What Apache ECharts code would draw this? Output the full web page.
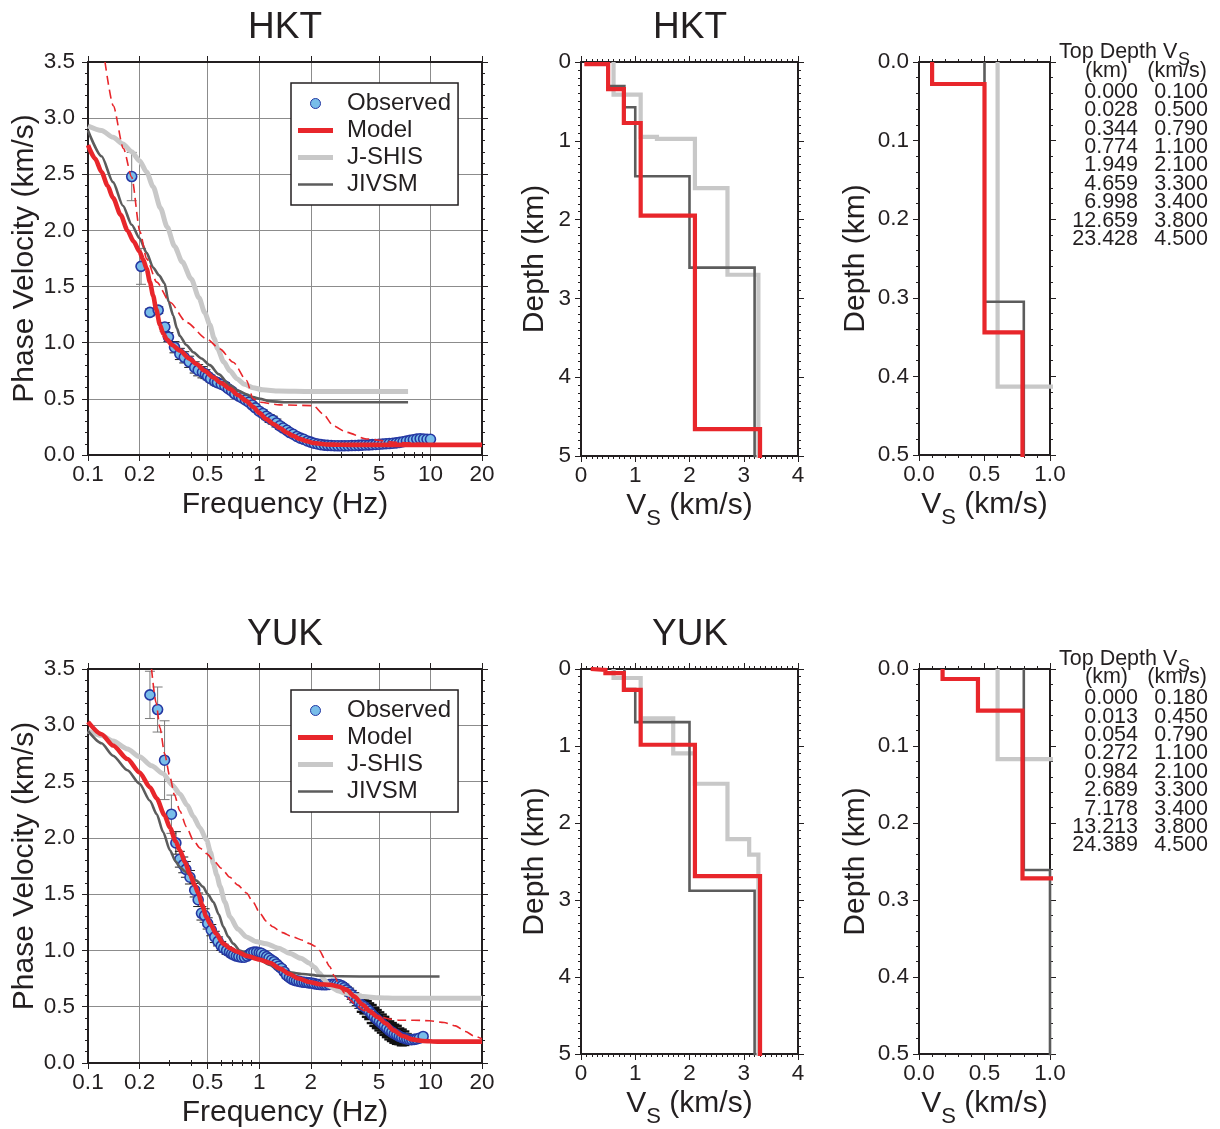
<!DOCTYPE html>
<html>
<head>
<meta charset="utf-8">
<title>HKT / YUK dispersion and Vs profiles</title>
<script src="https://cdn.jsdelivr.net/npm/echarts@6/dist/echarts.min.js"></script>
<style>
html, body { margin: 0; padding: 0; background: #fff; }
#chart { width: 1220px; height: 1129px; }
</style>
</head>
<body>
<div id="chart"></div>
<script>
// ---------------- styling constants ----------------
const FONT = '"Liberation Sans", Arial, Helvetica, sans-serif';
const INK = '#231f20';
const RED = '#e8262b';
const LIGHT = '#c8c8c8';
const DARK = '#5c5c5c';
const GRID_COLOR = '#8c8c8c';
const OBS_FILL = '#78bde9';
const OBS_EDGE = '#2538a3';

// ---------------- axis tick values ----------------
const FREQ_TICKS = [0.1, 0.2, 0.5, 1, 2, 5, 10, 20];
const FREQ_MINOR = [0.3, 0.4, 0.6, 0.7, 0.8, 0.9, 3, 4, 6, 7, 8, 9];

// ---------------- HKT phase velocity curves [Hz, km/s] ----------------
const hktModel = [[0.1,2.76],[0.11,2.64],[0.12,2.52],[0.13,2.40],[0.14,2.29],[0.155,2.14],[0.17,2.00],[0.185,1.90],[0.2,1.81],[0.21,1.74],[0.22,1.66],[0.23,1.54],[0.24,1.42],[0.25,1.30],[0.263,1.16],[0.275,1.08],[0.288,1.03],[0.31,0.98],[0.344,0.93],[0.39,0.86],[0.43,0.81],[0.48,0.75],[0.54,0.69],[0.6,0.64],[0.674,0.59],[0.75,0.535],[0.843,0.48],[0.92,0.43],[1.0,0.375],[1.1,0.32],[1.21,0.276],[1.32,0.24],[1.445,0.2],[1.58,0.17],[1.73,0.143],[1.9,0.123],[2.07,0.107],[2.47,0.094],[3,0.091],[4,0.09],[6,0.09],[10,0.09],[20,0.09]];
const hktInitial = [[0.1257,3.5],[0.1405,3.11],[0.161,2.73],[0.18,2.475],[0.201,1.99],[0.22,1.747],[0.252,1.54],[0.301,1.36],[0.377,1.18],[0.493,1.034],[0.589,0.945],[0.705,0.826],[0.843,0.663],[0.922,0.50],[1.01,0.47],[1.32,0.446],[2.07,0.44],[2.36,0.365],[2.71,0.26],[3.24,0.202],[4.23,0.143],[6.3,0.113],[9.9,0.098],[20,0.089]];
const hktJshis = [[0.1,2.93],[0.12,2.89],[0.14,2.83],[0.16,2.77],[0.18,2.70],[0.2,2.62],[0.22,2.52],[0.24,2.39],[0.265,2.20],[0.29,2.03],[0.32,1.86],[0.355,1.72],[0.4,1.57],[0.445,1.40],[0.48,1.27],[0.515,1.16],[0.545,1.04],[0.57,0.95],[0.62,0.83],[0.674,0.75],[0.74,0.68],[0.82,0.63],[0.92,0.60],[1.05,0.58],[1.3,0.57],[2,0.565],[4,0.565],[7.4,0.565]];
const hktJivsm = [[0.1,2.89],[0.12,2.66],[0.14,2.43],[0.16,2.22],[0.18,2.05],[0.2,1.93],[0.22,1.80],[0.24,1.67],[0.26,1.60],[0.28,1.53],[0.295,1.37],[0.315,1.24],[0.33,1.13],[0.344,1.06],[0.375,0.98],[0.412,0.915],[0.46,0.86],[0.515,0.80],[0.58,0.72],[0.674,0.62],[0.75,0.575],[0.843,0.54],[0.92,0.515],[1.01,0.50],[1.15,0.48],[1.4,0.47],[2,0.47],[4,0.47],[7.4,0.47]];
// observed: [Hz, km/s, half error]
const hktObserved = [[0.18,2.48,0.215],[0.204,1.68,0.16],[0.23,1.27,0.03],[0.257,1.29,0.03],[0.281,1.14,0.04],[0.295,1.05,0.04],[0.32,0.96,0.05],[0.344,0.90,0.05],[0.365,0.87,0.05],[0.39,0.83,0.05],[0.42,0.78,0.05],[0.44,0.755,0.05],[0.466,0.737,0.05],[0.485,0.72,0.04],
[0.50,0.70,0.03],[0.52,0.68,0.03],[0.55,0.655,0.03],[0.57,0.645,0.03],[0.60,0.63,0.03],[0.63,0.615,0.03],[0.66,0.59,0.025],[0.69,0.57,0.025],[0.72,0.545,0.025],[0.76,0.525,0.025],[0.79,0.51,0.025],[0.83,0.49,0.025],[0.87,0.47,0.025],[0.91,0.445,0.025],[0.95,0.42,0.025],[1.00,0.39,0.025],[1.05,0.37,0.03],[1.10,0.345,0.03],[1.15,0.325,0.035],[1.20,0.31,0.035],[1.26,0.285,0.035],[1.32,0.26,0.03],[1.38,0.24,0.025],[1.45,0.22,0.02],[1.51,0.20,0.02],[1.58,0.185,0.02],[1.66,0.165,0.02],[1.74,0.15,0.02],[1.82,0.14,0.02],[1.91,0.125,0.02],[2.00,0.115,0.015],[2.09,0.105,0.015],[2.19,0.098,0.015],[2.29,0.092,0.015],[2.40,0.088,0.015],[2.51,0.086,0.015],[2.63,0.084,0.015],[2.75,0.083,0.015],[2.88,0.082,0.015],[3.02,0.082,0.015],[3.16,0.083,0.015],[3.31,0.083,0.015],[3.47,0.084,0.015],[3.63,0.085,0.015],[3.80,0.086,0.015],[3.98,0.088,0.015],[4.17,0.089,0.015],[4.37,0.09,0.015],[4.57,0.092,0.015],[4.79,0.094,0.015],[5.01,0.096,0.015],[5.25,0.098,0.015],[5.50,0.10,0.015],[5.75,0.102,0.015],[6.03,0.105,0.015],[6.31,0.108,0.015],[6.61,0.112,0.015],[6.92,0.118,0.015],[7.24,0.124,0.015],[7.59,0.13,0.015],[7.94,0.136,0.015],[8.32,0.142,0.015],[8.71,0.145,0.015],[9.12,0.143,0.015],[9.55,0.14,0.015],[10.0,0.14,0.01]];

// ---------------- YUK phase velocity curves [Hz, km/s] ----------------
const yukModel = [[0.1,3.03],[0.12,2.92],[0.14,2.82],[0.17,2.70],[0.2,2.58],[0.23,2.45],[0.252,2.35],[0.28,2.20],[0.301,2.09],[0.325,1.97],[0.344,1.89],[0.37,1.78],[0.393,1.68],[0.42,1.58],[0.44,1.51],[0.465,1.40],[0.49,1.30],[0.52,1.23],[0.56,1.15],[0.617,1.06],[0.674,1.02],[0.738,0.99],[0.85,0.95],[1.0,0.92],[1.15,0.89],[1.32,0.84],[1.5,0.79],[1.7,0.75],[1.95,0.72],[2.25,0.70],[2.6,0.695],[2.9,0.68],[3.24,0.65],[3.6,0.59],[4.0,0.52],[4.43,0.46],[4.9,0.41],[5.5,0.35],[6.1,0.29],[6.9,0.24],[7.8,0.21],[9,0.196],[11,0.19],[14,0.19],[20,0.19]];
const yukInitial = [[0.235,3.5],[0.25,3.2],[0.263,2.98],[0.28,2.75],[0.301,2.54],[0.32,2.38],[0.344,2.24],[0.375,2.10],[0.412,1.98],[0.45,1.91],[0.493,1.86],[0.54,1.80],[0.6,1.73],[0.674,1.65],[0.75,1.58],[0.843,1.51],[0.92,1.43],[1.01,1.33],[1.1,1.26],[1.2,1.21],[1.35,1.16],[1.57,1.12],[1.8,1.09],[1.97,1.06],[2.1,1.04],[2.25,1.00],[2.4,0.93],[2.58,0.856],[2.75,0.77],[2.96,0.68],[3.15,0.62],[3.4,0.56],[3.7,0.51],[4.05,0.47],[4.5,0.435],[5.1,0.41],[5.8,0.39],[6.6,0.38],[8,0.38],[9.9,0.375],[12,0.36],[14,0.33],[16,0.28],[18,0.24],[20,0.215]];
const yukJshis = [[0.1,2.95],[0.12,2.91],[0.14,2.86],[0.17,2.79],[0.2,2.72],[0.235,2.64],[0.275,2.57],[0.31,2.47],[0.344,2.39],[0.38,2.29],[0.412,2.19],[0.45,2.09],[0.493,1.98],[0.52,1.87],[0.54,1.77],[0.565,1.67],[0.59,1.57],[0.63,1.43],[0.674,1.30],[0.75,1.19],[0.843,1.12],[0.95,1.08],[1.1,1.06],[1.3,1.02],[1.5,0.975],[1.75,0.93],[1.97,0.886],[2.1,0.85],[2.25,0.797],[2.4,0.74],[2.58,0.68],[2.9,0.64],[3.2,0.62],[3.6,0.60],[4.05,0.59],[5,0.58],[6.3,0.576],[10,0.576],[20,0.576]];
const yukJivsm = [[0.1,2.95],[0.12,2.84],[0.14,2.73],[0.17,2.60],[0.2,2.48],[0.23,2.33],[0.252,2.21],[0.275,2.05],[0.301,1.89],[0.325,1.79],[0.344,1.74],[0.37,1.70],[0.393,1.67],[0.43,1.62],[0.47,1.565],[0.5,1.50],[0.54,1.43],[0.58,1.32],[0.617,1.21],[0.66,1.12],[0.705,1.06],[0.77,1.00],[0.88,0.95],[1.01,0.915],[1.15,0.87],[1.32,0.827],[1.5,0.805],[1.8,0.79],[2.25,0.775],[3,0.77],[5,0.768],[11.3,0.768]];
const yukObserved = [[0.23,3.27,0.21],[0.255,3.14,0.2],[0.28,2.69,0.35],[0.307,2.21,0.17],[0.326,1.955,0.1],[0.344,1.81,0.07],[0.36,1.76,0.07],[0.373,1.72,0.07],[0.394,1.65,0.06],[0.42,1.535,0.06],[0.44,1.45,0.06],[0.46,1.33,0.06],[0.48,1.31,0.06],[0.50,1.24,0.05],[0.525,1.18,0.05],[0.55,1.12,0.05],[0.575,1.08,0.04],[0.60,1.04,0.04],[0.62,1.02,0.035],[0.645,1.00,0.035],[0.67,0.985,0.03],[0.69,0.97,0.03],[0.71,0.96,0.025],[0.735,0.95,0.025],[0.76,0.945,0.025],[0.79,0.94,0.025],[0.82,0.94,0.025],[0.85,0.95,0.025],[0.875,0.965,0.025],[0.90,0.98,0.025],[0.93,0.985,0.025],[0.965,0.985,0.025],[1.0,0.98,0.025],[1.03,0.975,0.025],[1.07,0.96,0.025],[1.105,0.945,0.025],[1.14,0.93,0.025],[1.18,0.915,0.025],[1.22,0.90,0.025],[1.26,0.88,0.025],[1.30,0.86,0.025],[1.35,0.84,0.025],[1.40,0.81,0.025],[1.445,0.78,0.025],[1.50,0.76,0.025],[1.55,0.745,0.025],[1.60,0.735,0.025],[1.65,0.73,0.025],[1.71,0.725,0.025],[1.77,0.72,0.025],[1.83,0.717,0.025],[1.89,0.715,0.025],[1.95,0.712,0.025],[2.02,0.71,0.025],[2.09,0.705,0.025],[2.17,0.70,0.025],[2.24,0.698,0.025],[2.32,0.695,0.025],[2.40,0.695,0.025],[2.47,0.695,0.025],[2.56,0.698,0.025],[2.65,0.70,0.025],[2.74,0.70,0.025],[2.84,0.70,0.025],[2.94,0.695,0.025],[3.04,0.685,0.03],[3.14,0.67,0.03],[3.24,0.65,0.03],[3.35,0.63,0.035],[3.47,0.605,0.04],[3.59,0.58,0.045],[3.71,0.56,0.05],[3.84,0.535,0.05],[3.97,0.515,0.06],[4.11,0.50,0.06],[4.25,0.48,0.07],[4.39,0.46,0.07],[4.54,0.435,0.08],[4.70,0.41,0.08],[4.86,0.39,0.08],[5.03,0.37,0.08],[5.2,0.35,0.08],[5.38,0.33,0.08],[5.56,0.31,0.08],[5.75,0.29,0.08],[5.95,0.275,0.08],[6.15,0.26,0.08],[6.36,0.25,0.08],[6.58,0.237,0.07],[6.8,0.227,0.07],[7.04,0.22,0.06],[7.28,0.213,0.05],[7.53,0.209,0.04],[7.78,0.207,0.03],[8.04,0.21,0.03],[8.3,0.213,0.03],[8.6,0.22,0.02],[9.06,0.236,0.02]];

// ---------------- layered Vs models: top depth (km) / Vs (km/s) ----------------
const hktTopDepth = [0.000, 0.028, 0.344, 0.774, 1.949, 4.659, 6.998, 12.659, 23.428];
const hktVs       = [0.100, 0.500, 0.790, 1.100, 2.100, 3.300, 3.400, 3.800, 4.500];
const hktJshisTop = [0, 0.413, 0.95, 0.976, 1.6, 2.7];
const hktJshisVs  = [0.6, 1.1, 1.4, 2.1, 2.7, 3.27];
const hktJivsmTop = [0, 0.305, 0.575, 1.45, 2.61];
const hktJivsmVs  = [0.5, 0.8, 1.0, 2.0, 3.2];

const yukTopDepth = [0.000, 0.013, 0.054, 0.272, 0.984, 2.689, 7.178, 13.213, 24.389];
const yukVs       = [0.180, 0.450, 0.790, 1.100, 2.100, 3.300, 3.400, 3.800, 4.500];
const yukJshisTop = [0, 0.117, 0.64, 1.095, 1.49, 2.21, 2.41];
const yukJshisVs  = [0.6, 1.1, 1.7, 2.1, 2.7, 3.1, 3.27];
const yukJivsmTop = [0, 0.261, 0.69, 2.88];
const yukJivsmVs  = [0.8, 1.0, 2.0, 3.2];

// ---------------- layout ----------------
const grid = [
  { left: 88,  top: 62,  width: 394, height: 393 },
  { left: 581, top: 62,  width: 217, height: 394 },
  { left: 919, top: 62,  width: 131, height: 393 },
  { left: 88,  top: 669, width: 394, height: 394 },
  { left: 581, top: 669, width: 217, height: 393 },
  { left: 919, top: 669, width: 131, height: 393 }
];

const frameLine = { show: true, onZero: false, lineStyle: { color: INK, width: 2 } };
const tickLine = { color: INK, width: 1 };
const labelStyle = { color: INK, fontSize: 22.5, fontFamily: FONT };
const nameStyle = { color: INK, fontSize: 30, fontFamily: FONT };
const vsNameStyle = {
  color: INK, fontSize: 30, fontFamily: FONT,
  rich: { s: { fontSize: 22, fontFamily: FONT, color: INK, padding: [26, 0, 0, 0], verticalAlign: 'bottom' } }
};

const xAxis = [];
const yAxis = [];
const series = [];

function fmtFreq(v) { return String(+Number(v).toPrecision(4)); }

function dispersionAxes(gi) {
  const base = { gridIndex: gi, type: 'log', logBase: 10, min: 0.1, max: 20 };
  const xi = xAxis.length;
  xAxis.push(Object.assign({}, base, {
    position: 'bottom', axisLine: frameLine,
    axisTick: { show: true, length: 6, customValues: FREQ_TICKS, lineStyle: tickLine },
    axisLabel: Object.assign({ show: true, customValues: FREQ_TICKS, margin: 8, formatter: fmtFreq }, labelStyle),
    minorTick: { show: false },
    splitLine: { show: true, lineStyle: { color: GRID_COLOR, width: 1 } },
    name: 'Frequency (Hz)', nameLocation: 'middle', nameGap: 35, nameTextStyle: nameStyle
  }));
  xAxis.push(Object.assign({}, base, {
    position: 'top', axisLine: frameLine,
    axisTick: { show: true, length: 6, customValues: FREQ_TICKS, lineStyle: tickLine },
    axisLabel: { show: false }, minorTick: { show: false }, splitLine: { show: false }
  }));
  ['bottom', 'top'].forEach(function (pos) {
    xAxis.push(Object.assign({}, base, {
      position: pos, axisLine: { show: false },
      axisTick: { show: true, length: 3, customValues: FREQ_MINOR, lineStyle: tickLine },
      axisLabel: { show: false }, minorTick: { show: false }, splitLine: { show: false }
    }));
  });
  const yi = yAxis.length;
  const ybase = { gridIndex: gi, type: 'value', min: 0, max: 3.5, interval: 0.5 };
  yAxis.push(Object.assign({}, ybase, {
    position: 'left', axisLine: frameLine,
    axisTick: { show: true, length: 6, lineStyle: tickLine },
    minorTick: { show: true, splitNumber: 5, length: 3, lineStyle: tickLine },
    axisLabel: Object.assign({ margin: 13, formatter: function (v) { return v.toFixed(1); } }, labelStyle),
    splitLine: { show: true, lineStyle: { color: GRID_COLOR, width: 1 } },
    name: 'Phase Velocity (km/s)', nameLocation: 'middle', nameGap: 48, nameRotate: 90, nameTextStyle: nameStyle
  }));
  yAxis.push(Object.assign({}, ybase, {
    position: 'right', axisLine: frameLine,
    axisTick: { show: true, length: 6, lineStyle: tickLine },
    minorTick: { show: true, splitNumber: 5, length: 3, lineStyle: tickLine },
    axisLabel: { show: false }, splitLine: { show: false }
  }));
  return { xi: xi, yi: yi };
}

function profileAxes(gi, xmax, xint, xMinor, ymax, yint, yMinor, digits, labelMargin, depthGap) {
  const fmt = function (v) { return v.toFixed(digits); };
  const xbase = { gridIndex: gi, type: 'value', min: 0, max: xmax, interval: xint };
  const xi = xAxis.length;
  xAxis.push(Object.assign({}, xbase, {
    position: 'bottom', axisLine: frameLine,
    axisTick: { show: true, length: 6, lineStyle: tickLine },
    minorTick: { show: true, splitNumber: xMinor, length: 3, lineStyle: tickLine },
    axisLabel: Object.assign({ margin: 8, formatter: fmt }, labelStyle),
    splitLine: { show: false },
    name: 'V{s|S} (km/s)', nameLocation: 'middle', nameGap: 26, nameTextStyle: vsNameStyle
  }));
  xAxis.push(Object.assign({}, xbase, {
    position: 'top', axisLine: frameLine,
    axisTick: { show: true, length: 6, lineStyle: tickLine },
    minorTick: { show: true, splitNumber: xMinor, length: 3, lineStyle: tickLine },
    axisLabel: { show: false }, splitLine: { show: false }
  }));
  const ybase = { gridIndex: gi, type: 'value', min: 0, max: ymax, interval: yint, inverse: true };
  const yi = yAxis.length;
  yAxis.push(Object.assign({}, ybase, {
    position: 'left', axisLine: frameLine,
    axisTick: { show: true, length: 6, lineStyle: tickLine },
    minorTick: { show: true, splitNumber: yMinor, length: 3, lineStyle: tickLine },
    axisLabel: Object.assign({ margin: labelMargin, formatter: fmt }, labelStyle),
    splitLine: { show: false },
    name: 'Depth (km)', nameLocation: 'middle', nameGap: depthGap, nameRotate: 90, nameTextStyle: nameStyle
  }));
  yAxis.push(Object.assign({}, ybase, {
    position: 'right', axisLine: frameLine,
    axisTick: { show: true, length: 6, lineStyle: tickLine },
    minorTick: { show: true, splitNumber: yMinor, length: 3, lineStyle: tickLine },
    axisLabel: { show: false }, splitLine: { show: false }
  }));
  return { xi: xi, yi: yi };
}

function curve(name, ax, data, color, width, dashed) {
  return {
    type: 'line', name: name, xAxisIndex: ax.xi, yAxisIndex: ax.yi, data: data,
    symbol: 'none', showSymbol: false, symbolKeepAspect: true,
    smooth: 0.25, smoothMonotone: 'x', clip: true, silent: true,
    lineStyle: { color: color, width: width, type: dashed ? [9, 5] : 'solid', cap: 'butt' },
    itemStyle: { color: color }
  };
}

function errorBars(ax, obs) {
  return {
    type: 'custom', name: 'Observed', xAxisIndex: ax.xi, yAxisIndex: ax.yi, silent: true, clip: true,
    data: obs.map(function (p) { return [p[0], p[1] - p[2], p[1] + p[2]]; }),
    encode: { x: 0, y: [1, 2] },
    renderItem: function (params, api) {
      const f = api.value(0);
      const lo = api.coord([f, api.value(1)]);
      const hi = api.coord([f, api.value(2)]);
      const spread = api.value(2) - api.value(1);
      const w = 5;
      // long low-frequency bars are lighter; the wide high-frequency bars merge into a dark band
      let st;
      if (spread > 0.25) st = { stroke: '#7a7a7a', lineWidth: 1 };
      else if (spread > 0.11 && f > 3) st = { stroke: '#111111', lineWidth: 2.4 };
      else st = { stroke: '#222222', lineWidth: 1 };
      return {
        type: 'group', children: [
          { type: 'line', shape: { x1: lo[0], y1: lo[1], x2: hi[0], y2: hi[1] }, style: st },
          { type: 'line', shape: { x1: lo[0] - w, y1: lo[1], x2: lo[0] + w, y2: lo[1] }, style: st },
          { type: 'line', shape: { x1: hi[0] - w, y1: hi[1], x2: hi[0] + w, y2: hi[1] }, style: st }
        ]
      };
    }
  };
}

function observedPoints(ax, obs) {
  return {
    type: 'scatter', name: 'Observed', xAxisIndex: ax.xi, yAxisIndex: ax.yi, silent: true,
    data: obs.map(function (p) { return [p[0], p[1]]; }),
    symbol: 'circle', symbolSize: 10, symbolKeepAspect: true,
    itemStyle: { color: OBS_FILL, borderColor: OBS_EDGE, borderWidth: 1.6, opacity: 1 }
  };
}

// step profile: each layer drawn from its top to the next layer's top
function stepProfile(tops, vs, bottom) {
  const pts = [];
  for (let i = 0; i < tops.length; i++) {
    const next = i + 1 < tops.length ? tops[i + 1] : bottom;
    pts.push([vs[i], tops[i]]);
    pts.push([vs[i], next]);
  }
  return pts;
}

function profileLine(name, ax, pts, color, width) {
  return {
    type: 'line', name: name, xAxisIndex: ax.xi, yAxisIndex: ax.yi, data: pts,
    symbol: 'none', showSymbol: false, smooth: false, clip: true, silent: true,
    lineStyle: { color: color, width: width, join: 'miter', cap: 'butt' },
    itemStyle: { color: color }
  };
}

function dispersionPanel(gi, d) {
  const ax = dispersionAxes(gi);
  series.push(curve('J-SHIS', ax, d.jshis, LIGHT, 5, false));
  series.push(curve('JIVSM', ax, d.jivsm, DARK, 2.6, false));
  series.push(errorBars(ax, d.obs));
  series.push(observedPoints(ax, d.obs));
  series.push(curve('Initial', ax, d.initial, RED, 1.6, true));
  series.push(curve('Model', ax, d.model, RED, 4.6, false));
}

function profilePanels(giDeep, giShallow, d) {
  const deep = profileAxes(giDeep, 4, 1, 10, 5, 1, 10, 0, 10, 31);
  const shallow = profileAxes(giShallow, 1, 0.5, 5, 0.5, 0.1, 5, 1, 10, 48);
  [deep, shallow].forEach(function (ax) {
    series.push(profileLine('J-SHIS', ax, stepProfile(d.jTop, d.jVs, 40), LIGHT, 4.2));
    series.push(profileLine('JIVSM', ax, stepProfile(d.iTop, d.iVs, 40), DARK, 2.6));
    series.push(profileLine('Model', ax, stepProfile(d.top, d.vs, 40), RED, 4.2));
  });
}

dispersionPanel(0, { model: hktModel, initial: hktInitial, jshis: hktJshis, jivsm: hktJivsm, obs: hktObserved });
profilePanels(1, 2, { top: hktTopDepth, vs: hktVs, jTop: hktJshisTop, jVs: hktJshisVs, iTop: hktJivsmTop, iVs: hktJivsmVs });
dispersionPanel(3, { model: yukModel, initial: yukInitial, jshis: yukJshis, jivsm: yukJivsm, obs: yukObserved });
profilePanels(4, 5, { top: yukTopDepth, vs: yukVs, jTop: yukJshisTop, jVs: yukJshisVs, iTop: yukJivsmTop, iVs: yukJivsmVs });

// ---------------- legends ----------------
function legendAt(top) {
  return {
    orient: 'vertical', left: 291, top: top,
    padding: [7, 7, 7, 7], itemGap: 0, itemWidth: 35, itemHeight: 10,
    backgroundColor: '#fff', borderColor: INK, borderWidth: 1.5, borderRadius: 0,
    selectedMode: false,
    textStyle: { fontSize: 24, color: INK, fontFamily: FONT, lineHeight: 27, padding: [0, 0, 0, 9] },
    data: [
      { name: 'Observed', icon: 'circle', itemStyle: { color: OBS_FILL, borderColor: OBS_EDGE, borderWidth: 1 } },
      { name: 'Model', icon: 'path://M0,0H35V5H0Z', itemStyle: { color: RED, borderWidth: 0 } },
      { name: 'J-SHIS', icon: 'path://M0,0H35V5H0Z', itemStyle: { color: LIGHT, borderWidth: 0 } },
      { name: 'JIVSM', icon: 'path://M0,0H35V2.6H0Z', itemStyle: { color: DARK, borderWidth: 0 } }
    ]
  };
}

// ---------------- titles ----------------
function titleAt(text, x, top) {
  return {
    text: text, left: x, top: top, textAlign: 'center', padding: 0,
    textStyle: { fontSize: 37, fontWeight: 'normal', color: INK, fontFamily: FONT }
  };
}

// ---------------- layer tables ----------------
const graphic = [];
function addTable(y0, depths, vs) {
  const base = { fontSize: 21.5, fontFamily: FONT, fill: INK, verticalAlign: 'middle' };
  graphic.push({ type: 'text', x: 1059, y: y0 - 39.3, silent: true, style: Object.assign({ text: 'Top Depth', align: 'left' }, base) });
  graphic.push({ type: 'text', x: 1163, y: y0 - 39.3, silent: true, style: Object.assign({ text: 'V', align: 'left' }, base) });
  graphic.push({ type: 'text', x: 1178, y: y0 - 31.5, silent: true, style: Object.assign({}, base, { text: 'S', align: 'left', fontSize: 18 }) });
  graphic.push({ type: 'text', x: 1128, y: y0 - 21, silent: true, style: Object.assign({ text: '(km)', align: 'right' }, base) });
  graphic.push({ type: 'text', x: 1207, y: y0 - 21, silent: true, style: Object.assign({ text: '(km/s)', align: 'right' }, base) });
  depths.forEach(function (d, i) {
    graphic.push({ type: 'text', x: 1138, y: y0 + 18.4 * i, silent: true, style: Object.assign({ text: d.toFixed(3), align: 'right' }, base) });
    graphic.push({ type: 'text', x: 1208, y: y0 + 18.4 * i, silent: true, style: Object.assign({ text: vs[i].toFixed(3), align: 'right' }, base) });
  });
}
addTable(91.8, hktTopDepth, hktVs);
addTable(698.3, yukTopDepth, yukVs);

const chart = echarts.init(document.getElementById('chart'), null, { renderer: 'canvas' });
chart.setOption({
  backgroundColor: '#fff',
  animation: false,
  textStyle: { fontFamily: FONT },
  title: [titleAt('HKT', 285, 9), titleAt('HKT', 690, 9), titleAt('YUK', 285, 616), titleAt('YUK', 690, 616)],
  legend: [legendAt(83), legendAt(690)],
  grid: grid,
  xAxis: xAxis,
  yAxis: yAxis,
  series: series,
  graphic: graphic
});
</script>
</body>
</html>
